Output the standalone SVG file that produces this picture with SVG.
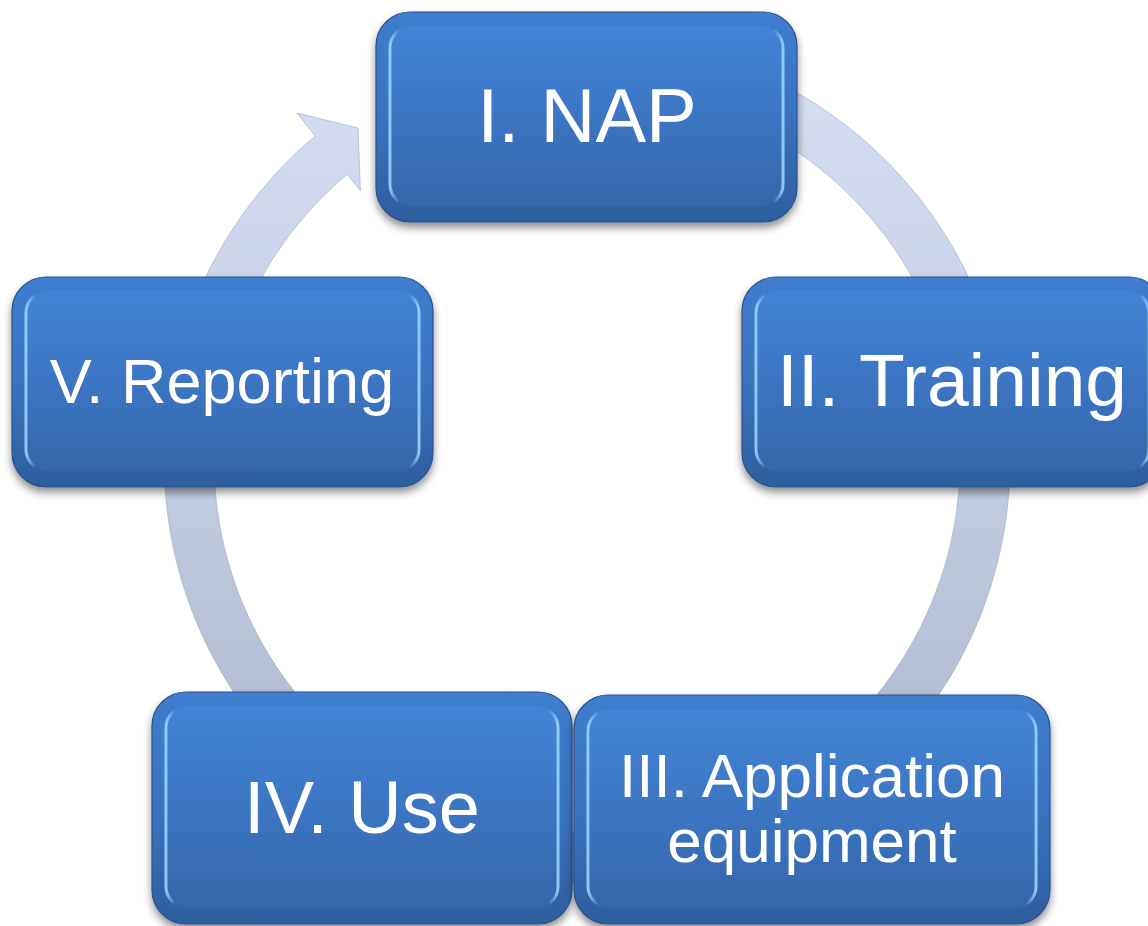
<svg xmlns="http://www.w3.org/2000/svg" width="1148" height="926" viewBox="0 0 1148 926">
  <defs>
    <linearGradient id="ringGrad" gradientUnits="userSpaceOnUse" x1="0" y1="60" x2="0" y2="870">
      <stop offset="0" stop-color="#d5def2"/>
      <stop offset="0.5" stop-color="#c3cde2"/>
      <stop offset="1" stop-color="#aab4c7"/>
    </linearGradient>
    <linearGradient id="baseGrad" x1="0" y1="0" x2="0" y2="1">
      <stop offset="0" stop-color="#3f7ecf"/>
      <stop offset="0.5" stop-color="#3a73c0"/>
      <stop offset="1" stop-color="#2d5d9d"/>
    </linearGradient>
    <linearGradient id="faceGrad" x1="0" y1="0" x2="0" y2="1">
      <stop offset="0" stop-color="#4384d6"/>
      <stop offset="0.55" stop-color="#3b74c1"/>
      <stop offset="1" stop-color="#3566a9"/>
    </linearGradient>
    <linearGradient id="sideHi" x1="0" y1="0" x2="1" y2="0">
      <stop offset="0" stop-color="#9ad4ff" stop-opacity="0.9"/>
      <stop offset="0.025" stop-color="#9ad4ff" stop-opacity="0"/>
      <stop offset="0.975" stop-color="#9ad4ff" stop-opacity="0"/>
      <stop offset="1" stop-color="#9ad4ff" stop-opacity="0.9"/>
    </linearGradient>
    <filter id="shadow" x="-10%" y="-10%" width="120%" height="130%">
      <feGaussianBlur in="SourceAlpha" stdDeviation="4"/>
      <feOffset dy="5" result="b"/>
      <feComponentTransfer><feFuncA type="linear" slope="0.45"/></feComponentTransfer>
      <feMerge><feMergeNode/><feMergeNode in="SourceGraphic"/></feMerge>
    </filter>
  </defs>
  <style>
    .base { fill: url(#baseGrad); stroke: #2a548c; stroke-width: 1.2; }
    .face { fill: url(#faceGrad); }
    .hi { fill: none; stroke: url(#sideHi); stroke-width: 3; }
    .lbl { font-family: "Liberation Sans", Arial, sans-serif; fill: #ffffff; text-anchor: middle; }
    .ring { fill: url(#ringGrad); stroke: #9aa7bf; stroke-width: 0.8; stroke-opacity: 0.7; }
  </style>

  <g id="connectors">
    <path class="ring" d="M 442.3,62.5 A 423 423 0 1 1 315.1,136.0 L 297,113 L 358,128 L 360.5,191 L 347.2,174.3 A 373 373 0 1 0 459.4,109.5 Z"/>
  </g>

  <g id="node-1" filter="url(#shadow)">
    <rect class="base" x="376" y="12" width="421" height="210" rx="34"/>
    <rect class="face" x="390" y="26" width="393" height="180" rx="22"/>
    <rect class="hi" x="390" y="26" width="393" height="180" rx="22"/>
    <text class="lbl" x="587" y="142" font-size="76">I. NAP</text>
  </g>

  <g id="node-2" filter="url(#shadow)">
    <rect class="base" x="742" y="277" width="421" height="210" rx="34"/>
    <rect class="face" x="756" y="291" width="393" height="180" rx="22"/>
    <rect class="hi" x="756" y="291" width="393" height="180" rx="22"/>
    <text class="lbl" x="952" y="406" font-size="75">II. Training</text>
  </g>

  <g id="node-5" filter="url(#shadow)">
    <rect class="base" x="12" y="277" width="421" height="210" rx="34"/>
    <rect class="face" x="26" y="291" width="393" height="180" rx="22"/>
    <rect class="hi" x="26" y="291" width="393" height="180" rx="22"/>
    <text class="lbl" x="222" y="403" font-size="63">V. Reporting</text>
  </g>

  <g id="node-4" filter="url(#shadow)">
    <rect class="base" x="152" y="692" width="420" height="232" rx="34"/>
    <rect class="face" x="166" y="706" width="392" height="202" rx="22"/>
    <rect class="hi" x="166" y="706" width="392" height="202" rx="22"/>
    <text class="lbl" x="362" y="833" font-size="74">IV. Use</text>
  </g>

  <g id="node-3" filter="url(#shadow)">
    <rect class="base" x="574" y="695" width="476" height="229" rx="34"/>
    <rect class="face" x="588" y="709" width="448" height="199" rx="22"/>
    <rect class="hi" x="588" y="709" width="448" height="199" rx="22"/>
    <text class="lbl" x="812" y="797" font-size="62">III. Application</text>
    <text class="lbl" x="812" y="862" font-size="62">equipment</text>
  </g>
</svg>
